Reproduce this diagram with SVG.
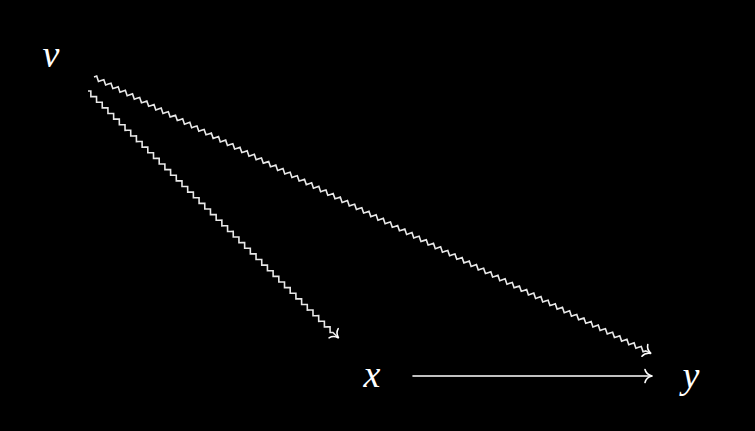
<svg xmlns="http://www.w3.org/2000/svg" width="755" height="431" viewBox="0 0 755 431">
<style>
.lbl{font-family:"Liberation Serif","DejaVu Serif",serif;font-style:italic;font-size:38px;fill:#fff;text-anchor:middle}
.zz{fill:none;stroke:#e8e8e8;stroke-width:1.6;stroke-linejoin:miter}
.ar{fill:none;stroke:#fff;stroke-width:1.6;stroke-linecap:round}
</style>
<rect width="755" height="431" fill="#000"/>
<g id="node-v"><text class="lbl" x="51" y="67">v</text></g>
<g id="node-x"><text class="lbl" x="372" y="387">x</text></g>
<g id="node-y"><text class="lbl" x="691" y="388">y</text></g>
<g id="connectors">
<g transform="translate(88,91) rotate(44.6)">
<path class="zz" d="M0,0
l2,-2l4,4l2,-2l2,-2l4,4l2,-2l2,-2l4,4l2,-2l2,-2l4,4l2,-2l2,-2l4,4l2,-2l2,-2l4,4l2,-2l2,-2l4,4l2,-2l2,-2l4,4l2,-2l2,-2l4,4l2,-2l2,-2l4,4l2,-2
l2,-2l4,4l2,-2l2,-2l4,4l2,-2l2,-2l4,4l2,-2l2,-2l4,4l2,-2l2,-2l4,4l2,-2l2,-2l4,4l2,-2l2,-2l4,4l2,-2l2,-2l4,4l2,-2l2,-2l4,4l2,-2l2,-2l4,4l2,-2
l2,-2l4,4l2,-2l2,-2l4,4l2,-2l2,-2l4,4l2,-2l2,-2l4,4l2,-2l2,-2l4,4l2,-2l2,-2l4,4l2,-2l2,-2l4,4l2,-2l2,-2l4,4l2,-2l2,-2l4,4l2,-2l2,-2l4,4l2,-2
l2,-2l4,4l2,-2l2,-2l4,4l2,-2l2,-2l4,4l2,-2l2,-2l4,4l2,-2l2,-2l4,4l2,-2l2,-2l4,4l2,-2l2,-2l4,4l2,-2l2,-2l4,4l2,-2l2,-2l4,4l2,-2l2,-2l4,4l2,-2
l2,-2l4,4l2,-2l2,-2l4,4l2,-2l2,-2l4,4l2,-2
L351,0"/>
<path class="ar" d="M-7,-6.5 C-6,-2.5 -2.5,-0.6 0,0 C-2.5,0.6 -6,2.5 -7,6.5" transform="translate(352,0)"/>
</g>
<g transform="translate(94,77) rotate(26.4)">
<path class="zz" d="M0,0
l2,-2l4,4l2,-2l2,-2l4,4l2,-2l2,-2l4,4l2,-2l2,-2l4,4l2,-2l2,-2l4,4l2,-2l2,-2l4,4l2,-2l2,-2l4,4l2,-2l2,-2l4,4l2,-2l2,-2l4,4l2,-2l2,-2l4,4l2,-2
l2,-2l4,4l2,-2l2,-2l4,4l2,-2l2,-2l4,4l2,-2l2,-2l4,4l2,-2l2,-2l4,4l2,-2l2,-2l4,4l2,-2l2,-2l4,4l2,-2l2,-2l4,4l2,-2l2,-2l4,4l2,-2l2,-2l4,4l2,-2
l2,-2l4,4l2,-2l2,-2l4,4l2,-2l2,-2l4,4l2,-2l2,-2l4,4l2,-2l2,-2l4,4l2,-2l2,-2l4,4l2,-2l2,-2l4,4l2,-2l2,-2l4,4l2,-2l2,-2l4,4l2,-2l2,-2l4,4l2,-2
l2,-2l4,4l2,-2l2,-2l4,4l2,-2l2,-2l4,4l2,-2l2,-2l4,4l2,-2l2,-2l4,4l2,-2l2,-2l4,4l2,-2l2,-2l4,4l2,-2l2,-2l4,4l2,-2l2,-2l4,4l2,-2l2,-2l4,4l2,-2
l2,-2l4,4l2,-2l2,-2l4,4l2,-2l2,-2l4,4l2,-2l2,-2l4,4l2,-2l2,-2l4,4l2,-2l2,-2l4,4l2,-2l2,-2l4,4l2,-2l2,-2l4,4l2,-2l2,-2l4,4l2,-2l2,-2l4,4l2,-2
l2,-2l4,4l2,-2l2,-2l4,4l2,-2l2,-2l4,4l2,-2l2,-2l4,4l2,-2l2,-2l4,4l2,-2l2,-2l4,4l2,-2l2,-2l4,4l2,-2l2,-2l4,4l2,-2l2,-2l4,4l2,-2l2,-2l4,4l2,-2
l2,-2l4,4l2,-2l2,-2l4,4l2,-2l2,-2l4,4l2,-2l2,-2l4,4l2,-2l2,-2l4,4l2,-2l2,-2l4,4l2,-2l2,-2l4,4l2,-2l2,-2l4,4l2,-2l2,-2l4,4l2,-2l2,-2l4,4l2,-2
l2,-2l4,4l2,-2l2,-2l4,4l2,-2l2,-2l4,4l2,-2l2,-2l4,4l2,-2l2,-2l4,4l2,-2l2,-2l4,4l2,-2l2,-2l4,4l2,-2
L621,0"/>
<path class="ar" d="M-7,-6.5 C-6,-2.5 -2.5,-0.6 0,0 C-2.5,0.6 -6,2.5 -7,6.5" transform="translate(622,0)"/>
</g>
<path class="ar" d="M413,376 H652"/>
<path class="ar" d="M-7,-6.5 C-6,-2.5 -2.5,-0.6 0,0 C-2.5,0.6 -6,2.5 -7,6.5" transform="translate(652,376)"/>
</g>
</svg>
